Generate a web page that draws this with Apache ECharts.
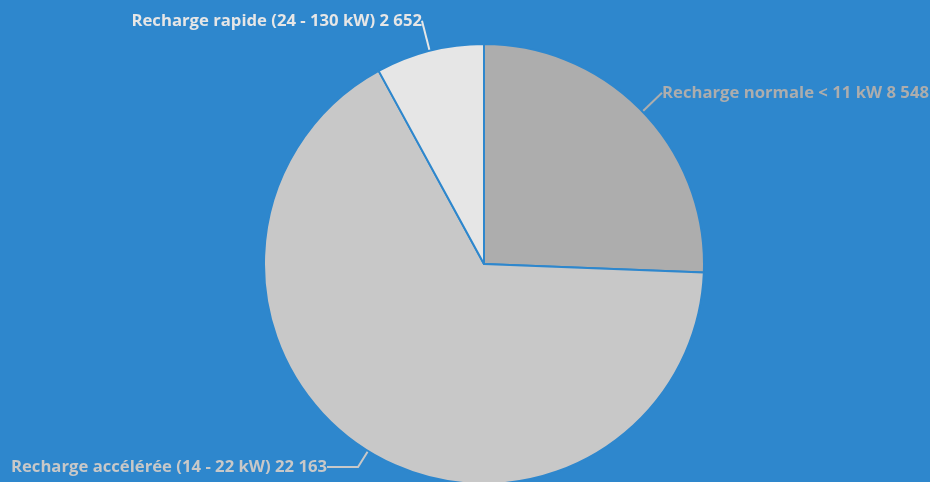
<!DOCTYPE html>
<html><head><meta charset="utf-8">
<script src="https://cdn.jsdelivr.net/npm/echarts@6/dist/echarts.min.js"></script>
<style>html,body{margin:0;padding:0;background:#2e87cd;}#c{width:930px;height:482px;}</style>
</head><body><div id="c"></div>
<script>
const categories = ['Recharge normale < 11 kW', 'Recharge accélérée (14 - 22 kW)', 'Recharge rapide (24 - 130 kW)'];
const values = [8548, 22163, 2652];
const colors = ['#adadad', '#c8c8c8', '#e6e6e6'];
const lineLen = [[27, 0], [19, 31], [31, 0]];

function fmt(v) { return String(v).replace(/\B(?=(\d{3})+(?!\d))/g, ' '); }

const chart = echarts.init(document.getElementById('c'));
chart.setOption({
  backgroundColor: '#2e87cd',
  animation: false,
  series: [{
    type: 'pie',
    center: [484, 264],
    radius: 220,
    startAngle: 90,
    clockwise: true,
    avoidLabelOverlap: false,
    itemStyle: { borderColor: '#2e87cd', borderWidth: 2 },
    label: {
      show: true,
      fontFamily: 'Open Sans',
      fontWeight: 'bold',
      fontSize: 16.7,
      distanceToLabelLine: 0,
      formatter: p => p.name + ' ' + fmt(p.value)
    },
    labelLine: { lineStyle: { width: 2 } },
    emphasis: { disabled: true },
    data: categories.map((c, i) => ({
      name: c, value: values[i],
      itemStyle: { color: colors[i] },
      label: { color: colors[i] },
      labelLine: { length: lineLen[i][0], length2: lineLen[i][1], lineStyle: { color: colors[i] } }
    }))
  }]
});
</script></body></html>
